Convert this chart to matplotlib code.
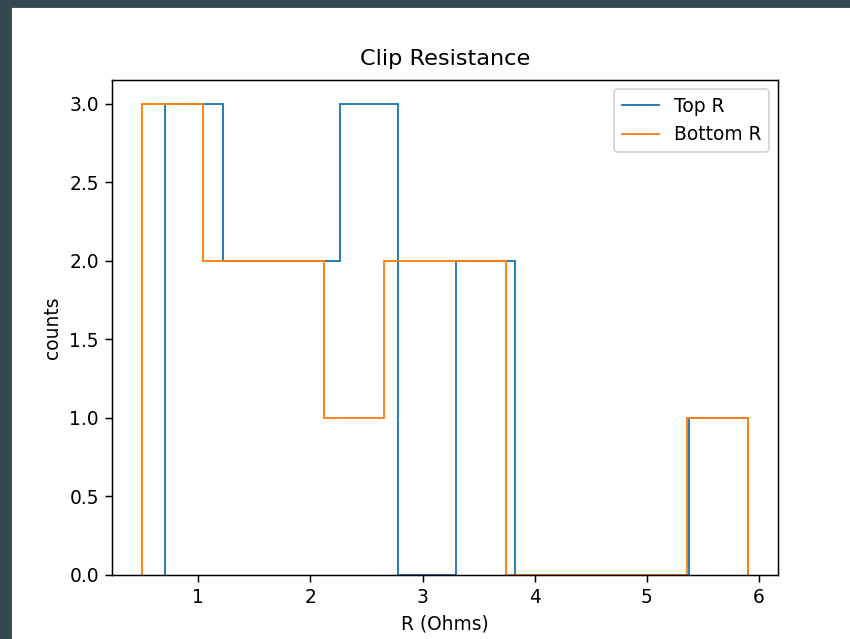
import numpy as np
import matplotlib.pyplot as plt
from matplotlib.patches import Rectangle

# clip resistance measurements (Ohms)
top_r = [0.7, 0.9, 1.1, 1.3, 1.6, 1.9, 2.1, 2.3, 2.5, 2.7, 3.4, 3.7, 5.9]
bottom_r = [0.5, 0.8, 1.0, 1.2, 1.5, 1.7, 2.0, 2.4, 2.8, 3.1, 3.3, 3.6, 5.9]
labels = ["Top R", "Bottom R"]

DPI = 134
fig = plt.figure(figsize=(850 / DPI, 639 / DPI), dpi=DPI)

# screenshot frame (dark strips at top and left)
frame = "#37474f"
fig.patches.append(Rectangle((0, 0), 11 / 850, 1, transform=fig.transFigure,
                             color=frame, zorder=-1))
fig.patches.append(Rectangle((0, 1 - 7 / 639), 1, 7 / 639, transform=fig.transFigure,
                             color=frame, zorder=-1))

ax = fig.add_axes([112 / 850, 64 / 639, 666 / 850, 495 / 639])
for vals, label in zip([top_r, bottom_r], labels):
    counts, edges = np.histogram(vals, bins=10)
    ax.stairs(counts, edges, linewidth=1.0, label=label)
ax.margins(x=0.05, y=0.05)
ax.set_ylim(bottom=0)
ax.set_title("Clip Resistance", pad=8)
ax.set_xlabel("R (Ohms)")
ax.set_ylabel("counts")
ax.legend(loc="upper right")

fig.savefig("out.png", dpi=DPI)
